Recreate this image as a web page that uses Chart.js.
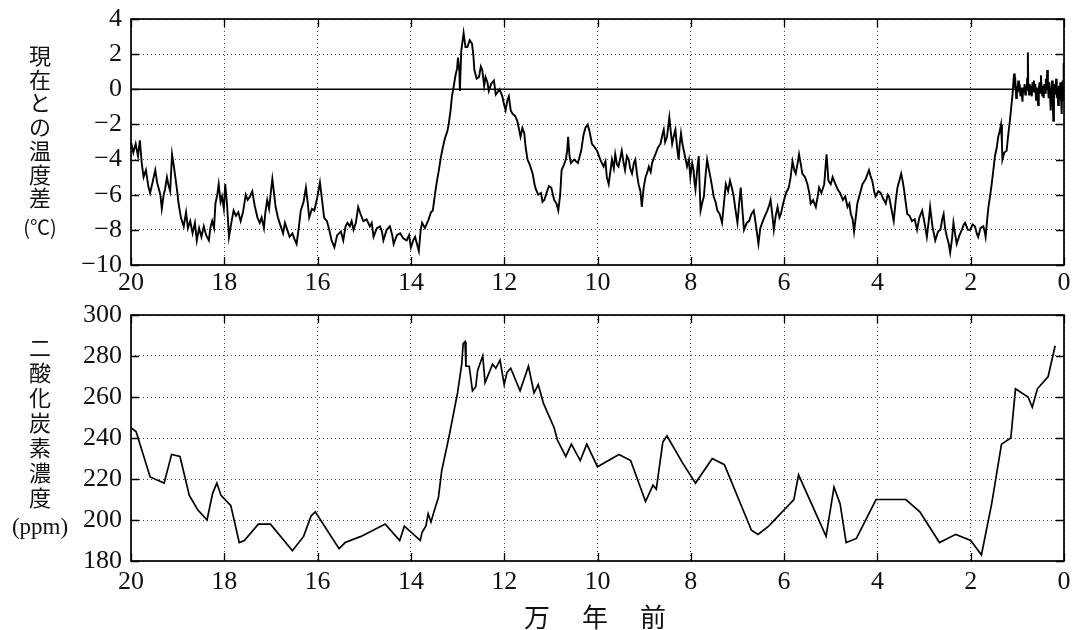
<!DOCTYPE html>
<html><head><meta charset="utf-8">
<script src="https://cdn.jsdelivr.net/npm/chart.js@4/dist/chart.umd.min.js"></script>
<style>
html,body{margin:0;padding:0;background:#fff;}
#wrap{position:relative;width:1074px;height:630px;overflow:hidden;background:#fff;}
canvas{position:absolute;left:0;}
.jp{position:absolute;font-family:"Noto Sans CJK JP","Noto Sans",sans-serif;color:#111;text-align:center;}
.sf{position:absolute;font-family:"Liberation Serif","DejaVu Serif",serif;color:#111;text-align:center;}
</style></head>
<body><div id="wrap">
<canvas id="c1" width="1074" height="298" style="top:0"></canvas>
<canvas id="c2" width="1074" height="332" style="top:298px"></canvas>
<div class="jp" id="t1" style="left:17px;width:46px;top:43px;font-size:22px;line-height:23.7px;"></div>
<div class="jp" style="left:10px;width:60px;top:214px;font-size:20px;line-height:26px;">(℃)</div>
<div class="jp" id="t2" style="left:17px;width:46px;top:334px;font-size:22px;line-height:25px;"></div>
<div class="sf" style="left:0px;width:80px;top:513px;font-size:23px;line-height:28px;">(ppm)</div>
<div class="jp" id="xt" style="left:524px;top:601px;font-size:26px;line-height:30px;letter-spacing:32px;white-space:nowrap;">万年前</div>
</div>
<script>
// ---- data ----
const yAxisTitleTop = "現在との温度差";
const yAxisTitleBottom = "二酸化炭素濃度";
const xTicksTop = [20,18,16,14,12,10,8,6,4,2,0];
const tempTicks = [4,2,0,-2,-4,-6,-8,-10];
const co2Ticks = [300,280,260,240,220,200,180];

const tempYears = [
20.00,19.95,19.90,19.85,19.81,19.77,19.73,19.68,19.63,19.59,
19.53,19.48,19.44,19.41,19.37,19.34,19.30,19.27,19.23,19.20,
19.16,19.12,19.08,19.05,19.01,18.98,18.93,18.87,18.82,18.78,
18.73,18.68,18.63,18.59,18.54,18.49,18.44,18.39,18.33,18.30,
18.26,18.22,18.19,18.15,18.12,18.08,18.05,18.01,17.98,17.94,
17.90,17.85,17.80,17.75,17.70,17.65,17.60,17.54,17.50,17.45,
17.40,17.35,17.29,17.24,17.20,17.15,17.12,17.08,17.04,17.00,
16.97,16.93,16.90,16.85,16.79,16.74,16.70,16.65,16.60,16.54,
16.50,16.45,16.40,16.36,16.30,16.25,16.21,16.18,16.12,16.07,
16.01,15.95,15.90,15.86,15.80,15.75,15.70,15.64,15.58,15.50,
15.45,15.40,15.36,15.31,15.27,15.23,15.18,15.13,15.08,15.02,
14.95,14.88,14.84,14.80,14.73,14.66,14.62,14.59,14.52,14.45,
14.40,14.37,14.30,14.23,14.16,14.09,14.04,14.00,13.95,13.91,
13.87,13.83,13.79,13.76,13.70,13.62,13.57,13.53,13.48,13.44,
13.40,13.36,13.33,13.29,13.26,13.22,13.19,13.15,13.12,13.08,
13.05,13.01,12.99,12.96,12.95,12.93,12.92,12.89,12.87,12.83,
12.79,12.74,12.69,12.66,12.64,12.59,12.54,12.50,12.47,12.43,
12.40,12.36,12.33,12.28,12.22,12.18,12.15,12.10,12.04,12.00,
11.97,11.93,11.90,11.86,11.82,11.77,11.72,11.68,11.65,11.61,
11.57,11.54,11.50,11.45,11.39,11.35,11.32,11.27,11.21,11.18,
11.14,11.08,11.04,10.99,10.93,10.88,10.84,10.80,10.77,10.72,
10.68,10.65,10.63,10.60,10.57,10.50,10.42,10.35,10.30,10.26,
10.21,10.17,10.12,10.06,10.01,9.94,9.87,9.83,9.80,9.76,
9.72,9.69,9.65,9.62,9.58,9.55,9.51,9.48,9.44,9.41,
9.37,9.33,9.30,9.26,9.22,9.19,9.15,9.12,9.08,9.05,
9.01,8.97,8.93,8.90,8.86,8.83,8.79,8.76,8.70,8.65,
8.61,8.58,8.55,8.51,8.46,8.43,8.40,8.36,8.33,8.29,
8.26,8.24,8.21,8.18,8.15,8.11,8.08,8.04,8.01,7.97,
7.94,7.92,7.90,7.86,7.83,7.81,7.79,7.75,7.72,7.68,
7.65,7.61,7.58,7.54,7.51,7.47,7.43,7.38,7.33,7.29,
7.25,7.20,7.16,7.12,7.08,7.04,7.00,6.96,6.93,6.89,
6.86,6.80,6.75,6.70,6.65,6.60,6.55,6.51,6.47,6.41,
6.36,6.32,6.29,6.25,6.22,6.18,6.14,6.10,6.07,6.02,
5.96,5.90,5.86,5.82,5.78,5.75,5.71,5.68,5.64,5.61,
5.55,5.50,5.46,5.43,5.38,5.32,5.28,5.25,5.20,5.14,
5.09,5.05,5.00,4.96,4.90,4.85,4.80,4.74,4.69,4.64,
4.60,4.57,4.53,4.50,4.46,4.43,4.38,4.32,4.25,4.18,
4.14,4.11,4.07,4.04,3.98,3.93,3.88,3.82,3.78,3.75,
3.70,3.65,3.61,3.57,3.53,3.49,3.46,3.43,3.39,3.36,
3.31,3.26,3.20,3.15,3.10,3.04,2.99,2.94,2.90,2.87,
2.82,2.76,2.70,2.65,2.61,2.58,2.55,2.51,2.47,2.44,
2.40,2.37,2.33,2.30,2.24,2.19,2.15,2.12,2.06,2.01,
1.96,1.91,1.87,1.84,1.79,1.73,1.70,1.68,1.65,1.62,
1.58,1.55,1.51,1.48,1.44,1.41,1.38,1.35,1.33,1.32,
1.28,1.23,1.20,1.16,1.13,
1.10,1.085,1.07,1.055,1.04,1.025,1.01,0.995,0.98,0.965,
0.95,0.935,0.92,0.905,0.89,0.875,0.86,0.845,0.83,0.815,
0.80,0.79,0.775,0.765,0.75,0.735,0.72,0.705,0.69,0.675,
0.66,0.645,0.63,0.615,0.60,0.585,0.57,0.555,0.54,0.525,
0.51,0.495,0.48,0.465,0.45,0.435,0.42,0.405,0.39,0.375,
0.36,0.345,0.33,0.315,0.30,0.285,0.27,0.255,0.24,0.23,
0.215,0.20,0.185,0.17,0.155,0.14,0.125,0.11,0.095,0.08,
0.065,0.05,0.04,0.03,0.02,0.01,0.005,0.00];

const tempValues = [
-3.0,-3.6,-3.1,-3.8,-2.9,-4.2,-5.0,-4.6,-5.5,-5.9,
-5.2,-4.6,-5.3,-5.6,-6.0,-6.8,-6.0,-5.7,-5.0,-5.4,
-5.8,-3.7,-4.4,-5.0,-5.8,-6.5,-7.3,-7.8,-7.0,-7.9,
-7.5,-8.2,-7.6,-8.6,-7.9,-8.4,-7.8,-8.3,-8.6,-7.9,
-7.5,-7.9,-6.5,-6.0,-5.4,-6.4,-6.1,-6.8,-5.4,-6.6,
-8.4,-7.6,-6.9,-7.2,-7.0,-7.5,-7.0,-6.0,-6.3,-6.1,
-5.8,-6.6,-7.3,-7.6,-7.3,-7.9,-7.0,-6.3,-6.8,-5.8,
-5.1,-6.0,-6.7,-7.3,-7.8,-8.2,-7.6,-8.0,-8.4,-8.2,
-8.5,-8.8,-7.8,-6.9,-6.4,-5.6,-6.5,-7.3,-6.8,-6.9,
-6.2,-5.3,-6.4,-7.3,-7.5,-8.0,-8.6,-9.0,-8.3,-8.1,
-8.6,-7.8,-7.6,-7.8,-7.5,-8.0,-7.6,-6.7,-7.1,-7.5,
-7.4,-7.8,-7.6,-8.4,-7.9,-7.8,-8.1,-8.6,-8.0,-7.8,
-8.3,-8.8,-8.3,-8.2,-8.5,-8.6,-8.3,-9.0,-8.6,-8.4,
-8.8,-9.2,-8.0,-7.6,-7.9,-7.4,-7.0,-6.9,-5.9,-5.2,
-4.6,-3.9,-3.5,-3.0,-2.7,-2.4,-2.0,-1.2,-0.4,0.2,
0.7,1.2,1.8,1.0,-0.1,1.5,2.2,2.8,3.2,2.4,
2.4,2.8,2.6,1.9,1.1,0.6,0.7,1.3,1.1,0.2,
0.7,0.4,-0.1,0.3,0.5,-0.3,-0.2,0.0,-0.4,-0.9,
-1.2,-0.6,-0.4,-1.2,-1.4,-1.5,-1.8,-2.3,-2.7,-2.2,
-2.5,-3.3,-4.0,-4.3,-4.8,-5.4,-5.7,-6.0,-5.9,-6.4,
-6.3,-5.8,-5.5,-5.6,-6.3,-6.5,-6.9,-6.0,-4.6,-4.3,
-4.0,-3.5,-2.7,-3.8,-4.2,-4.0,-4.2,-3.5,-2.6,-2.2,
-2.0,-2.4,-3.1,-3.3,-3.5,-4.0,-4.4,-4.1,-5.0,-5.4,
-4.6,-4.0,-4.5,-3.7,-4.3,-4.4,-3.9,-3.5,-4.2,-4.6,
-3.8,-4.0,-4.5,-4.8,-4.2,-4.0,-4.9,-5.4,-5.8,-6.7,
-5.6,-5.0,-4.7,-4.4,-4.7,-4.2,-3.9,-3.7,-3.3,-3.1,
-2.6,-2.3,-3.0,-2.7,-1.6,-2.4,-3.1,-2.6,-2.3,-3.4,
-4.0,-3.2,-2.5,-3.1,-3.5,-4.0,-4.4,-4.0,-5.0,-4.2,
-4.6,-5.3,-5.7,-4.5,-3.8,-5.6,-6.9,-6.4,-6.1,-4.8,
-4.0,-4.6,-5.0,-5.6,-6.1,-6.4,-6.9,-7.1,-7.6,-6.5,
-5.4,-5.8,-5.2,-5.6,-6.1,-6.9,-7.6,-6.4,-5.6,-7.0,
-8.0,-7.6,-7.5,-7.1,-6.9,-7.8,-8.8,-7.9,-7.6,-7.2,
-6.9,-6.6,-6.3,-7.2,-8.0,-7.2,-6.7,-7.3,-7.1,-6.5,
-5.9,-5.6,-5.0,-4.1,-4.6,-4.8,-4.2,-3.7,-4.3,-4.8,
-5.0,-5.4,-5.9,-6.5,-6.3,-6.7,-6.1,-5.6,-5.9,-5.4,
-3.7,-5.2,-5.4,-5.0,-5.4,-5.7,-5.9,-6.3,-6.1,-6.7,
-6.5,-7.1,-7.4,-8.1,-7.2,-6.5,-6.0,-5.4,-5.1,-4.6,
-5.0,-5.2,-5.8,-6.1,-5.8,-5.9,-6.2,-6.5,-6.0,-6.1,
-6.8,-7.5,-6.4,-5.6,-5.2,-4.8,-5.2,-5.7,-6.5,-7.1,
-7.2,-7.5,-7.4,-8.0,-7.3,-6.9,-7.6,-8.4,-7.5,-6.7,
-7.8,-8.6,-8.1,-8.0,-7.4,-7.1,-7.9,-8.4,-8.8,-9.3,
-8.5,-7.6,-8.3,-8.8,-8.3,-8.0,-7.7,-7.6,-8.0,-8.0,
-7.7,-7.8,-8.2,-8.4,-7.9,-7.8,-8.1,-8.4,-7.5,-6.7,
-6.0,-5.4,-4.5,-3.8,-3.3,-2.7,-2.4,-2.0,-3.1,-4.0,
-3.6,-3.5,-2.7,-1.8,-1.0,
-0.2,0.4,0.9,0.1,0.3,-0.5,0.2,-0.2,0.5,-0.1,
0.3,-0.4,0.1,-0.3,-0.7,0.1,-0.2,0.3,-0.3,0.2,
-0.1,0.6,2.1,0.2,-0.3,0.3,-0.2,0.2,-0.4,0.4,
-0.1,0.5,-0.2,0.3,-0.6,0.1,-0.4,-0.9,0.0,0.4,
-0.2,0.8,0.1,-0.4,0.2,-0.5,0.3,-0.2,0.6,0.0,
1.1,0.2,-0.5,0.4,-0.3,-1.2,-0.2,0.5,-0.7,-1.8,
-0.4,0.3,-0.3,0.6,-0.5,0.1,-0.9,0.2,-0.6,0.4,
-0.3,-1.4,-0.2,0.5,-0.6,1.5,-0.5,-0.2];

const zeroLineYears = [20, 0];
const zeroLineValues = [0, 0];

const co2Years = [
20.00,19.89,19.59,19.29,19.13,18.95,18.75,18.57,18.37,18.25,
18.16,18.07,17.86,17.68,17.57,17.27,17.01,16.54,16.30,16.14,
16.05,15.54,15.41,15.07,14.55,14.24,14.14,13.80,13.76,13.68,
13.63,13.57,13.48,13.41,13.34,13.18,13.00,12.91,12.88,12.84,
12.82,12.75,12.68,12.61,12.57,12.46,12.41,12.25,12.18,12.09,
12.00,11.94,11.86,11.66,11.48,11.36,11.27,11.16,10.93,10.86,
10.68,10.56,10.37,10.23,10.00,9.54,9.29,8.97,8.81,8.74,
8.60,8.51,8.18,7.90,7.54,7.28,6.70,6.56,6.33,5.79,
5.69,5.10,4.93,4.80,4.67,4.45,4.03,3.39,3.09,2.67,
2.32,2.00,1.77,1.55,1.34,1.14,1.04,0.77,0.68,0.57,
0.34,0.19];
const co2Values = [
245,243,221,218,232,231,212,205,200,213,
218,212,207,189,190,198,198,185,192,202,
204,186,189,192,198,190,197,190,194,197,
203,199,206,211,224,241,262,276,286,287,
275,275,263,265,273,280,267,276,274,278,
266,272,274,263,275,262,266,257,245,239,
231,237,229,237,226,232,229,209,217,215,
238,241,228,218,230,227,195,193,197,210,
222,192,216,208,189,191,210,210,204,189,
193,190,183,208,237,240,264,260,255,264,
270,285];

// ---- text ----
document.getElementById('t1').innerHTML = Array.from(yAxisTitleTop).join('<br>');
document.getElementById('t2').innerHTML = Array.from(yAxisTitleBottom).join('<br>');

const pts = (xs, ys) => xs.map((x, i) => ({x, y: ys[i]}));
const tickFont = {family: '"Liberation Serif", "DejaVu Serif", serif', size: 26, lineHeight: 1.1};
const minus = v => String(v).replace('-', '\u2212');

const framePlugin = {
  id: 'frame',
  afterDatasetsDraw(chart) {
    const {ctx, chartArea: a, scales: {x, y}} = chart;
    ctx.save();
    ctx.strokeStyle = '#000';
    ctx.lineWidth = 1.7;
    ctx.strokeRect(a.left, a.top, a.right - a.left, a.bottom - a.top);
    ctx.lineWidth = 1.3;
    ctx.beginPath();
    x.ticks.forEach(t => {
      const px = Math.round(x.getPixelForValue(t.value)) + 0.5;
      ctx.moveTo(px, a.top); ctx.lineTo(px, a.top + 8);
      ctx.moveTo(px, a.bottom); ctx.lineTo(px, a.bottom - 8);
    });
    y.ticks.forEach(t => {
      const py = Math.round(y.getPixelForValue(t.value)) + 0.5;
      ctx.moveTo(a.left, py); ctx.lineTo(a.left + 8, py);
      ctx.moveTo(a.right, py); ctx.lineTo(a.right - 8, py);
    });
    ctx.stroke();
    ctx.restore();
  }
};

function makeOptions(yMin, yMax, yTickList, topPad, xAxisHeight, xTickLen) {
  return {
    responsive: false,
    animation: false,
    events: [],
    layout: {padding: {left: 0, right: 10, top: topPad, bottom: 0}},
    plugins: {legend: {display: false}, tooltip: {enabled: false}},
    scales: {
      x: {
        type: 'linear', min: 0, max: 20, reverse: true,
        afterBuildTicks: s => { s.ticks = xTicksTop.map(v => ({value: v})); },
        ticks: {font: tickFont, color: '#111', padding: 0, maxRotation: 0, autoSkip: false,
                callback: v => minus(v)},
        grid: {color: '#444', lineWidth: 1, drawTicks: true, tickLength: xTickLen, tickColor: 'rgba(0,0,0,0)'},
        border: {display: false, dash: [1, 3]},
        afterFit: s => { s.height = xAxisHeight; }
      },
      y: {
        min: yMin, max: yMax,
        afterBuildTicks: s => { s.ticks = yTickList.map(v => ({value: v})); },
        ticks: {font: tickFont, color: '#111', padding: 0, callback: v => minus(v)},
        grid: {color: '#444', lineWidth: 1, drawTicks: true, tickLength: 9, tickColor: 'rgba(0,0,0,0)'},
        border: {display: false, dash: [1, 3]},
        afterFit: s => { s.width = 131; }
      }
    }
  };
}

function draw() {
  new Chart(document.getElementById('c1'), {
    type: 'line',
    data: {datasets: [
      {data: pts(tempYears, tempValues), borderColor: '#000', borderWidth: 1.9, pointRadius: 0, tension: 0, fill: false},
      {data: pts(zeroLineYears, zeroLineValues), borderColor: '#000', borderWidth: 1.5, pointRadius: 0, tension: 0, fill: false}
    ]},
    options: makeOptions(-10, 4, tempTicks, 19, 33, 4),
    plugins: [framePlugin]
  });

  new Chart(document.getElementById('c2'), {
    type: 'line',
    data: {datasets: [
      {data: pts(co2Years, co2Values), borderColor: '#000', borderWidth: 1.7, pointRadius: 0, tension: 0, fill: false}
    ]},
    options: makeOptions(180, 300, co2Ticks, 17, 69, 7),
    plugins: [framePlugin]
  });
}

Promise.all([
  document.fonts.load('26px "Liberation Serif"'),
  document.fonts.load('21px "Noto Sans CJK JP"', '現在')
]).then(draw, draw);
</script>
</body></html>
